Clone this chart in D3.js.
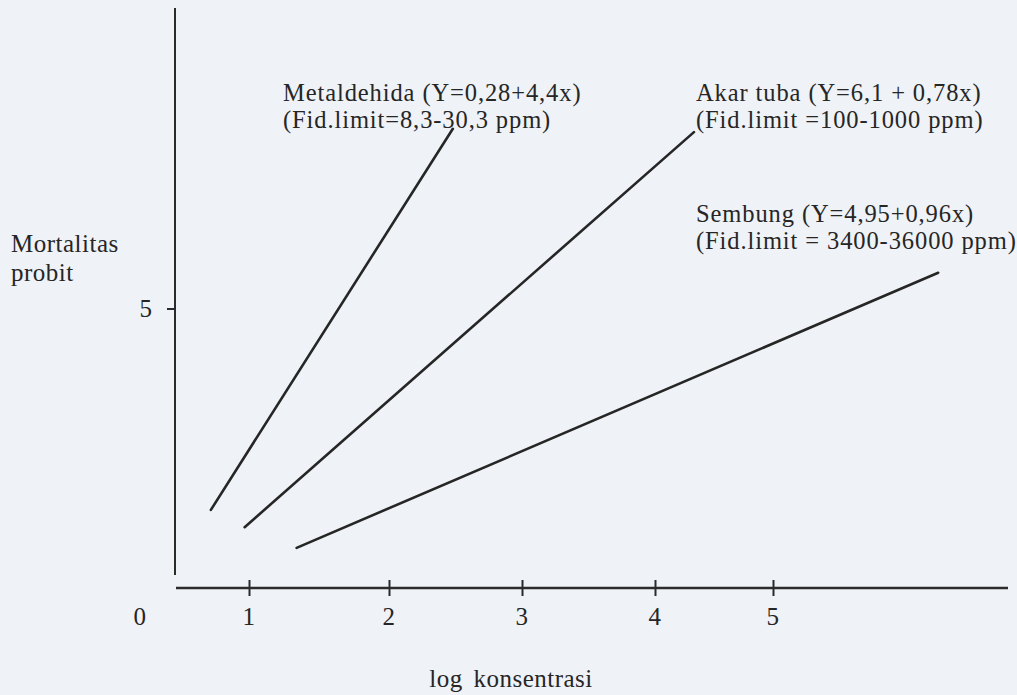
<!DOCTYPE html>
<html lang="en">
<head>
<meta charset="utf-8">
<style>
  body { margin: 0; background: #eff2f6; }
  svg { background: #eff2f6; font-family: 'Liberation Serif', 'Times New Roman', serif; }
  .axis-line { stroke: #2b2b2b; stroke-width: 2.5px; }
  .probit { fill: none; stroke: #262626; stroke-width: 2.6px; stroke-linecap: round; }
  text { fill: #262626; font-size: 25px; letter-spacing: 0.5px; }
  .note { font-size: 24.5px; letter-spacing: 0.9px; }
</style>
</head>
<body>
<svg width="1017" height="695"></svg>
<script src="https://cdn.jsdelivr.net/npm/d3@7"></script>
<script>
// values
var xTicks = [0, 1, 2, 3, 4, 5];
var yTicks = [5];
var seriesNames = ["Metaldehida", "Akar tuba", "Sembung"];
var startX = [0.65, 0.96, 1.34];
var startY = [1.40, 1.09, 0.72];
var endX   = [2.48, 4.33, 6.40];
var endY   = [8.23, 8.17, 5.65];
var noteLine1 = ["Metaldehida (Y=0,28+4,4x)", "Akar tuba (Y=6,1 + 0,78x)", "Sembung (Y=4,95+0,96x)"];
var noteLine2 = ["(Fid.limit=8,3-30,3 ppm)", "(Fid.limit =100-1000 ppm)", "(Fid.limit = 3400-36000 ppm)"];

var svg = d3.select("svg");

// the drawing's tick spacing is uneven, so map each tick to where it was drawn
var x = d3.scaleLinear()
    .domain(xTicks)
    .range([140, 249, 389, 522, 655, 773]);
var y = d3.scaleLinear()
    .domain([0, 5])
    .range([588, 309]);

// axes
svg.append("line").attr("class", "axis-line")
    .attr("x1", 175).attr("x2", 175).attr("y1", 8).attr("y2", 575)
    .style("stroke-width", "2px");
svg.append("line").attr("class", "axis-line")
    .attr("x1", 176).attr("x2", 1008).attr("y1", y(0)).attr("y2", y(0));

var xAxis = svg.append("g")
    .attr("transform", "translate(0," + y(0) + ")")
    .call(d3.axisBottom(x).tickValues(xTicks.filter(d => d > 0)).tickSize(8).tickFormat(""));
xAxis.select(".domain").remove();
xAxis.selectAll(".tick line")
    .attr("y1", -8).attr("y2", 8)
    .attr("stroke", "#2b2b2b").attr("stroke-width", 2);

svg.selectAll(".xlab")
  .data(xTicks)
  .enter().append("text")
    .attr("class", "xlab")
    .attr("x", d => x(d))
    .attr("y", 625)
    .attr("text-anchor", "middle")
    .text(d => d);

svg.selectAll(".ytick")
  .data(yTicks)
  .enter().append("line")
    .attr("x1", 167).attr("x2", 175)
    .attr("y1", d => y(d)).attr("y2", d => y(d))
    .attr("stroke", "#2b2b2b").attr("stroke-width", 2);
svg.selectAll(".ylab")
  .data(yTicks)
  .enter().append("text")
    .attr("x", 146)
    .attr("y", d => y(d) + 8)
    .attr("text-anchor", "middle")
    .text(d => d);

// axis titles
svg.append("text").attr("x", 11).attr("y", 252).text("Mortalitas");
svg.append("text").attr("x", 11).attr("y", 281).text("probit");
svg.append("text").attr("x", 511).attr("y", 687).attr("text-anchor", "middle")
    .attr("word-spacing", "4px").text("log konsentrasi");

// probit lines
var line = d3.line().x(d => x(d[0])).y(d => y(d[1]));
svg.selectAll(".probit")
  .data(seriesNames.map((n, i) => [[startX[i], startY[i]], [endX[i], endY[i]]]))
  .enter().append("path")
    .attr("class", "probit")
    .attr("d", line);

// annotations
var notePos = [[283, 101], [696, 101], [696, 222]];
seriesNames.forEach(function(n, i) {
  var g = svg.append("g").attr("transform", "translate(" + notePos[i] + ")");
  g.append("text").attr("class", "note").attr("y", 0).text(noteLine1[i]);
  g.append("text").attr("class", "note").attr("y", 27).text(noteLine2[i]);
});
</script>
</body>
</html>
